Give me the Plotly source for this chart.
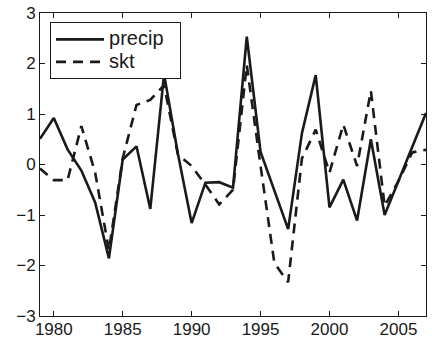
import plotly.graph_objects as go

years = list(range(1979, 2008))
precip = [0.51, 0.92, 0.30, -0.12, -0.75, -1.86, 0.10, 0.36, -0.88, 1.79,
          0.22, -1.16, -0.36, -0.35, -0.46, 2.53, 0.25, -0.52, -1.28, 0.62,
          1.77, -0.85, -0.30, -1.11, 0.50, -1.00, -0.33, 0.35, 1.02]
skt = [-0.08, -0.31, -0.31, 0.76, -0.16, -1.70, 0.12, 1.18, 1.28, 1.57,
       0.20, -0.03, -0.40, -0.79, -0.50, 1.97, -0.03, -1.95, -2.33, 0.12,
       0.69, -0.16, 0.79, -0.03, 1.46, -0.82, -0.33, 0.24, 0.29]

x_ticks = [1980, 1985, 1990, 1995, 2000, 2005]
y_ticks = [-3, -2, -1, 0, 1, 2, 3]
y_ticklabels = ["\u22123", "\u22122", "\u22121", "0", "1", "2", "3"]
series_names = ["precip", "skt"]


def big(label):
    return '<span style="font-size:20px">' + label + '\u00a0\u00a0</span>'


fig = go.Figure()
fig.add_trace(go.Scatter(x=years, y=precip, mode="lines", name=big(series_names[0]),
                         line=dict(color="#1a1a1a", width=2.6)))
fig.add_trace(go.Scatter(x=years, y=skt, mode="lines", name=big(series_names[1]),
                         line=dict(color="#1a1a1a", width=2.6, dash="10px,7px")))

font = dict(family="Liberation Sans, Arial, sans-serif", size=17, color="#1a1a1a")
fig.update_layout(
    width=432, height=342,
    margin=dict(l=40, r=6, t=13, b=26, autoexpand=False),
    paper_bgcolor="white", plot_bgcolor="white",
    font=font,
    showlegend=True,
    legend=dict(x=0.026, y=0.97, xanchor="left", yanchor="top",
                bordercolor="#1a1a1a", borderwidth=1, bgcolor="white",
                font=dict(family="Liberation Sans, Arial, sans-serif", size=15, color="#1a1a1a"),
                tracegroupgap=0, itemwidth=48),
)
fig.update_xaxes(range=[1979, 2007], tickvals=x_ticks, ticks="inside", ticklen=5,
                 tickcolor="#1a1a1a", showline=True, linecolor="#1a1a1a", linewidth=1,
                 mirror="allticks", showgrid=False, zeroline=False, tickfont=font,
                 automargin=False, ticklabelstandoff=-2)
fig.update_yaxes(range=[-3, 3], tickvals=y_ticks, ticktext=y_ticklabels, ticks="inside",
                 ticklen=5, tickcolor="#1a1a1a", showline=True, linecolor="#1a1a1a",
                 linewidth=1, mirror="allticks", showgrid=False, zeroline=False, tickfont=font,
                 automargin=False)

fig.write_html("out.html", config={"displayModeBar": False},
               post_script="document.body.style.margin='0';document.body.style.overflow='hidden';")
